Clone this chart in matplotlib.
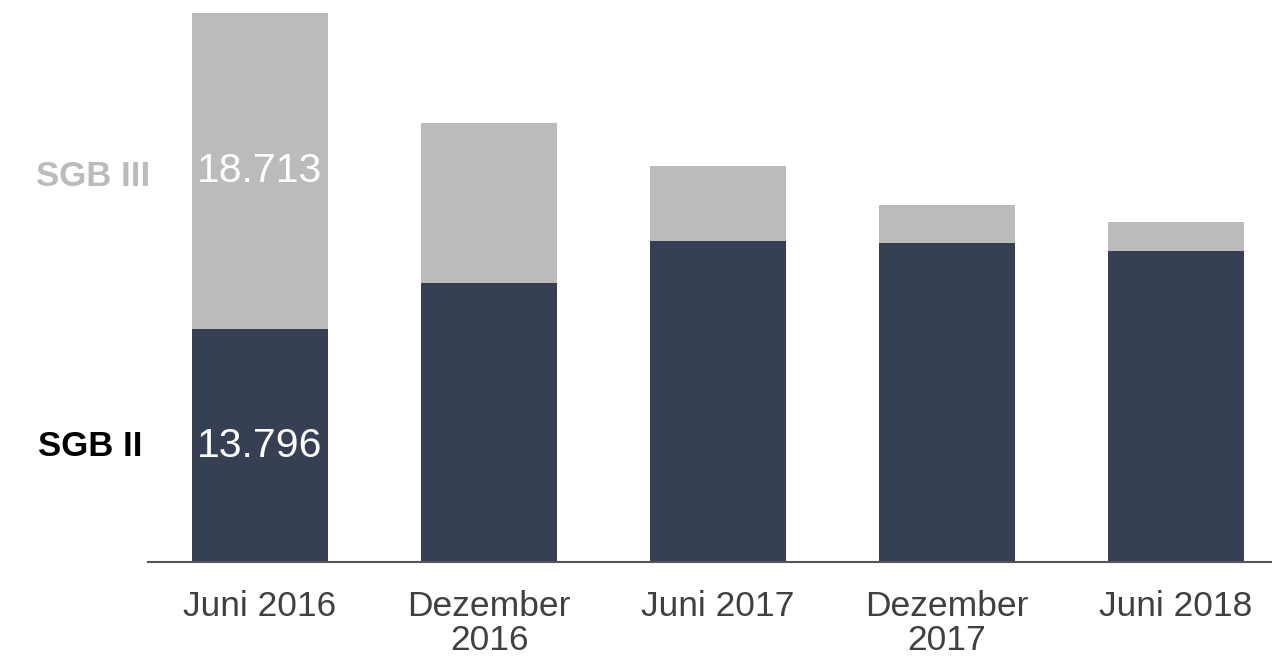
import matplotlib
matplotlib.use("Agg")
import matplotlib.pyplot as plt

categories = ["Juni 2016", "Dezember\n2016", "Juni 2017", "Dezember\n2017", "Juni 2018"]
sgb2 = [13796, 16540, 19040, 18920, 18445]
sgb3 = [18713, 9460, 4400, 2260, 1725]
label_sgb2 = "13.796"
label_sgb3 = "18.713"

plt.rcParams['font.family'] = ['Liberation Sans', 'DejaVu Sans']

W, H = 1272, 663
fig = plt.figure(figsize=(W / 100, H / 100), dpi=100)
ax = fig.add_axes([148 / W, 101 / H, 1124 / W, 562 / H])

dark = "#373F54"
light = "#BBBBBB"
x = list(range(len(categories)))
ax.bar(x, sgb2, width=0.59, color=dark, zorder=2)
ax.bar(x, sgb3, width=0.59, bottom=sgb2, color=light, zorder=2)

ax.set_xlim(-0.489, 4.419)
ax.set_ylim(0, 33300)

for s in ["top", "left", "right"]:
    ax.spines[s].set_visible(False)
ax.spines["bottom"].set_color("#555555")
ax.spines["bottom"].set_linewidth(1.5)
ax.set_yticks([])
ax.set_xticks(x)
ax.set_xticklabels(categories, fontsize=25.5, color="#404040", linespacing=1.05)
ax.tick_params(axis="x", length=0, pad=20)

ax.text(0, sgb2[0] / 2, label_sgb2, ha="center", va="center", color="white", fontsize=29.5)
ax.text(0, sgb2[0] + sgb3[0] / 2, label_sgb3, ha="center", va="center", color="white", fontsize=29.5)

fig.text(150 / W, 1 - 177 / H, "SGB III", ha="right", va="center", fontsize=25,
         fontweight="bold", color="#BBBBBB")
fig.text(142 / W, 1 - 447 / H, "SGB II", ha="right", va="center", fontsize=25,
         fontweight="bold", color="black")

fig.savefig("out.png", dpi=100)
